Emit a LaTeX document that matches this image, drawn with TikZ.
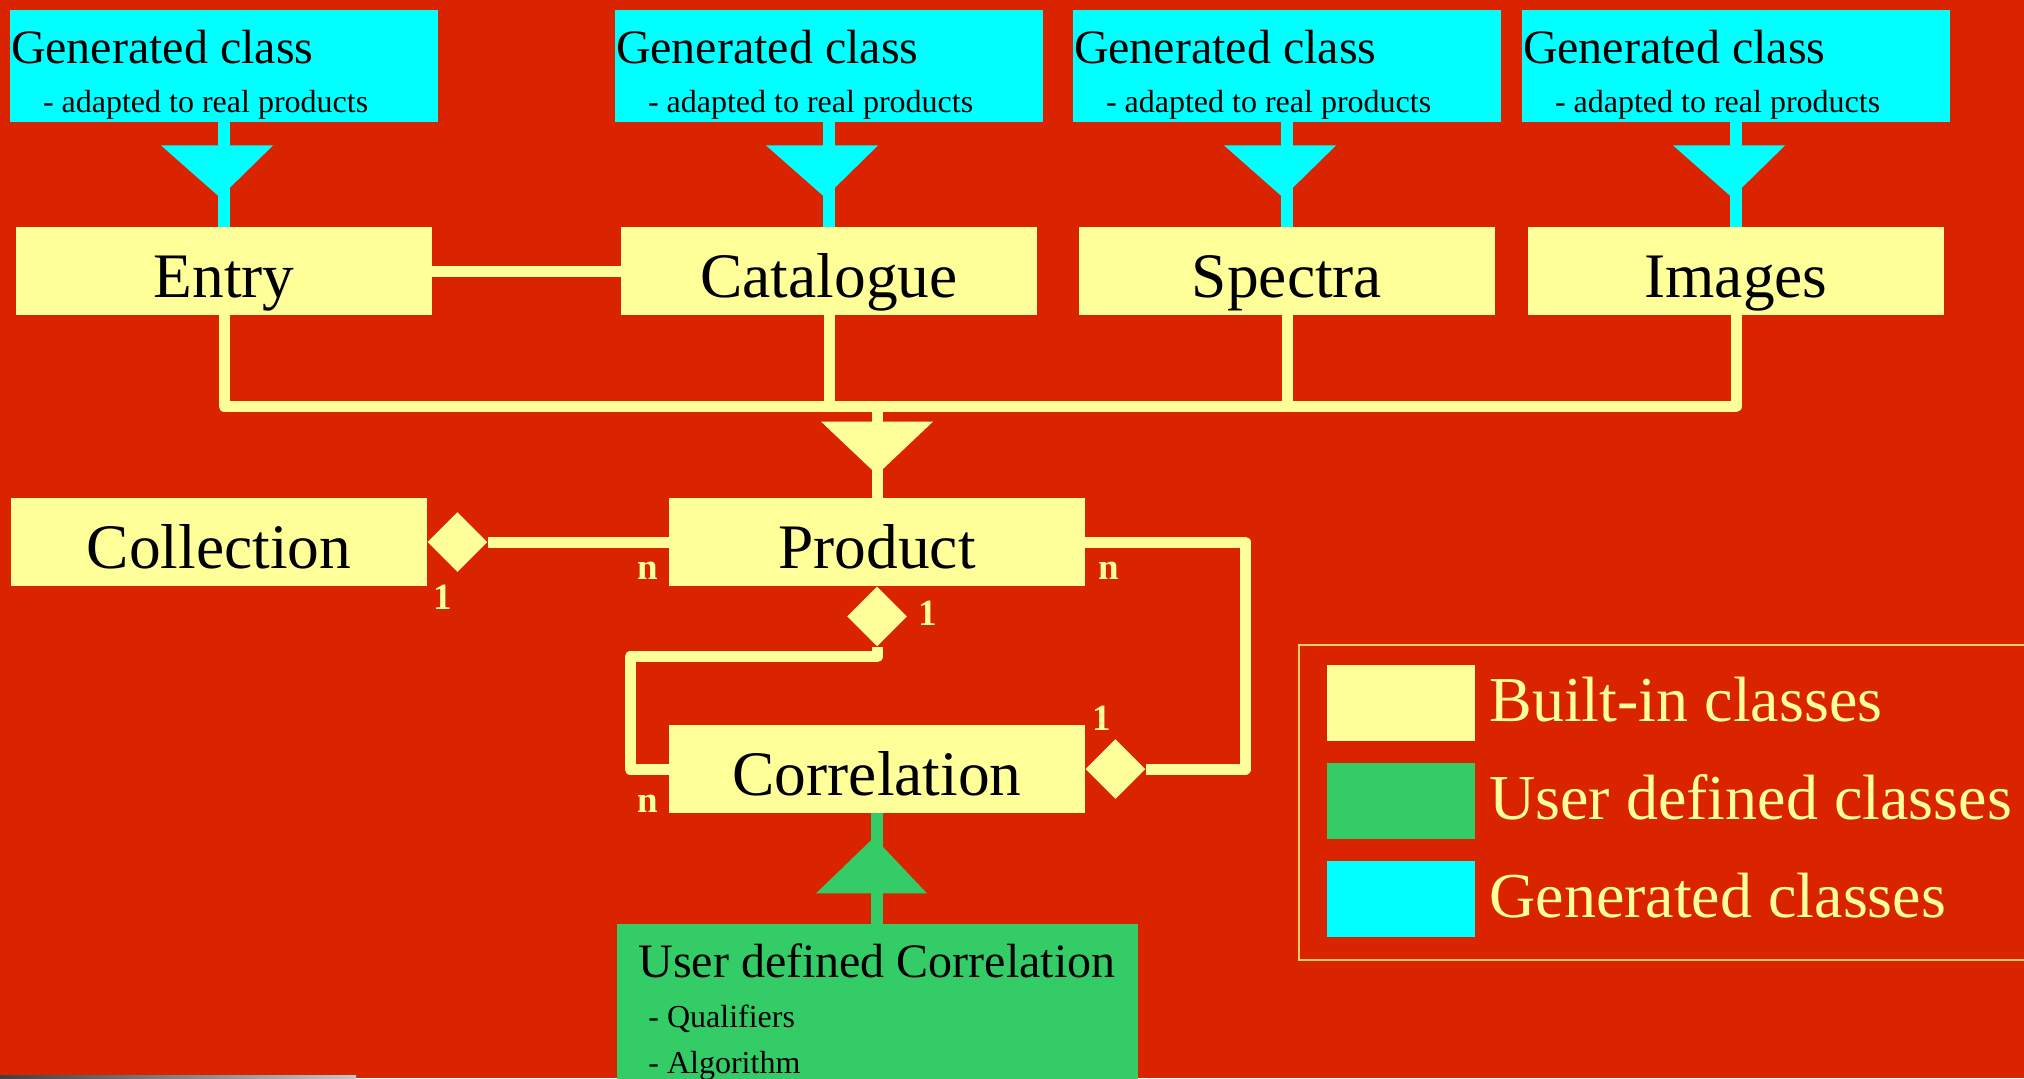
\documentclass[tikz,border=0pt]{standalone}
\usepackage{fontspec}
\setmainfont{Liberation Serif}
\usetikzlibrary{calc,shapes.geometric}
\definecolor{bgred}{RGB}{218,36,0}
\definecolor{builtin}{RGB}{255,255,153}
\definecolor{gencyan}{RGB}{0,255,255}
\definecolor{usergreen}{RGB}{51,204,102}
\definecolor{legline}{RGB}{255,204,102}
\begin{document}
\begin{tikzpicture}[x=0.5pt,y=-0.5pt,
  bigbox/.style={fill=builtin, inner sep=0pt, minimum width=208pt, minimum height=44pt,
    text height=26pt, text depth=0pt, font=\fontsize{31.7}{36}\selectfont},
  genbox/.style={fill=gencyan, inner sep=0pt, minimum width=214pt, minimum height=56pt},
  gentitle/.style={anchor=base west, inner sep=0pt, font=\fontsize{24}{28}\selectfont},
  gensub/.style={anchor=base west, inner sep=0pt, font=\fontsize{16}{19}\selectfont},
  yline/.style={draw=builtin, line width=5.5pt, line join=round},
  cline/.style={draw=gencyan, line width=6pt},
  gline/.style={draw=usergreen, line width=6pt},
  agg/.style={diamond, fill=builtin, inner sep=0pt, minimum width=30pt, minimum height=30pt},
  mult/.style={anchor=base, inner sep=0pt, text=builtin, font=\fontsize{18.5}{22}\selectfont\bfseries},
  swatch/.style={inner sep=0pt, minimum width=74pt, minimum height=38pt},
  legtext/.style={anchor=base west, inner sep=0pt, text=builtin, font=\fontsize{32}{38}\selectfont}
]
\useasboundingbox (0,0) rectangle (2024,1078);
\fill[bgred] (0,0) rectangle (2024,1078);
\shade[left color=black!75, right color=gray!45] (0,1075) rectangle (356,1078);

% generated (cyan) boxes
\node[genbox] (gen1) at (224,66) {};
\node[genbox] (gen2) at (829,66) {};
\node[genbox] (gen3) at (1287,66) {};
\node[genbox] (gen4) at (1736,66) {};
\foreach \g in {gen1,gen2,gen3,gen4}{
  \node[gentitle] (\g t) at ($(\g.north west)+(1,54)$) {Generated class};
  \node[gensub] (\g s) at ($(\g.north west)+(33,103)$) {- adapted to real products};
}

% built-in top boxes
\node[bigbox] (entry) at (224,271) {Entry};
\node[bigbox] (catalogue) at (829,271) {Catalogue};
\node[bigbox] (spectra) at (1287,271) {Spectra};
\node[bigbox] (images) at (1736,271) {Images};

% generalisation from generated to built-in
\draw[cline] (gen1.south) -- (entry.north);
\draw[cline] (gen2.south) -- (catalogue.north);
\draw[cline] (gen3.south) -- (spectra.north);
\draw[cline] (gen4.south) -- (images.north);
\foreach \g in {gen1,gen2,gen3,gen4}{
  \fill[gencyan] ($(\g.south)+(-63,23)$) -- ($(\g.south)+(49,23)$) -- ($(\g.south)+(-4,75)$) -- cycle;
}

% middle boxes
\node[bigbox] (collection) at (219,542) {Collection};
\node[bigbox] (product) at (877,542) {Product};
\node[bigbox] (correlation) at (877,769) {Correlation};

% entry - catalogue
\draw[yline] (entry.east) -- (catalogue.west);

% bus to product
\draw[yline] (entry.south) -- ++(0,91) -- ($(images.south)+(0,91)$) -- (images.south);
\draw[yline] (catalogue.south) -- ++(0,91);
\draw[yline] (spectra.south) -- ++(0,91);
\draw[yline] (product.north) -- ++(0,-92);
\fill[builtin] ($(product.north)+(-56,-76)$) -- ($(product.north)+(56,-76)$) -- ($(product.north)+(0,-23)$) -- cycle;

% collection aggregation
\node[agg] (cdia) at ($(collection.east)+(30,0)$) {};
\draw[yline] (cdia.east) -- (product.west);

% product - correlation aggregation (left)
\node[agg] (pdia) at ($(product.south)+(0,30)$) {};
\draw[yline] (pdia.south) -- ++(0,10) -- ++(-247,0) |- (correlation.west);

% product - correlation aggregation (right)
\node[agg] (rdia) at ($(correlation.east)+(30,0)$) {};
\draw[yline] (product.east) -- ++(160,0) |- (rdia.east);

% multiplicities
\node[mult] (m1) at (443,609) {1};
\node[mult] (m2) at (648,579) {n};
\node[mult] (m3) at (1109,579) {n};
\node[mult] (m4) at (928,625) {1};
\node[mult] (m5) at (1102,730) {1};
\node[mult] (m6) at (648,812) {n};

% user defined correlation
\node[fill=usergreen, inner sep=0pt, minimum width=260.5pt, minimum height=83pt, anchor=north] (user) at (877,924) {};
\draw[gline] (correlation.south) -- (user.north);
\fill[usergreen] ($(correlation.south)+(-61,80)$) -- ($(correlation.south)+(50,80)$) -- ($(correlation.south)+(-3,24)$) -- cycle;
\node[gentitle] (usert) at (638,977) {User defined Correlation};
\node[gensub] (user1) at (648,1027) {- Qualifiers};
\node[gensub] (user2) at (648,1073) {- Algorithm};

% legend
\draw[legline, line width=1pt] (1299,645) rectangle (2060,960);
\node[swatch, fill=builtin] (lb) at (1400.5,702.5) {};
\node[swatch, fill=usergreen] (lu) at (1400.5,800.5) {};
\node[swatch, fill=gencyan] (lg) at (1400.5,899) {};
\node[legtext] (lbt) at (1489,721) {Built-in classes};
\node[legtext] (lut) at (1489,819) {User defined classes};
\node[legtext] (lgt) at (1489,917) {Generated classes};
\end{tikzpicture}
\end{document}
